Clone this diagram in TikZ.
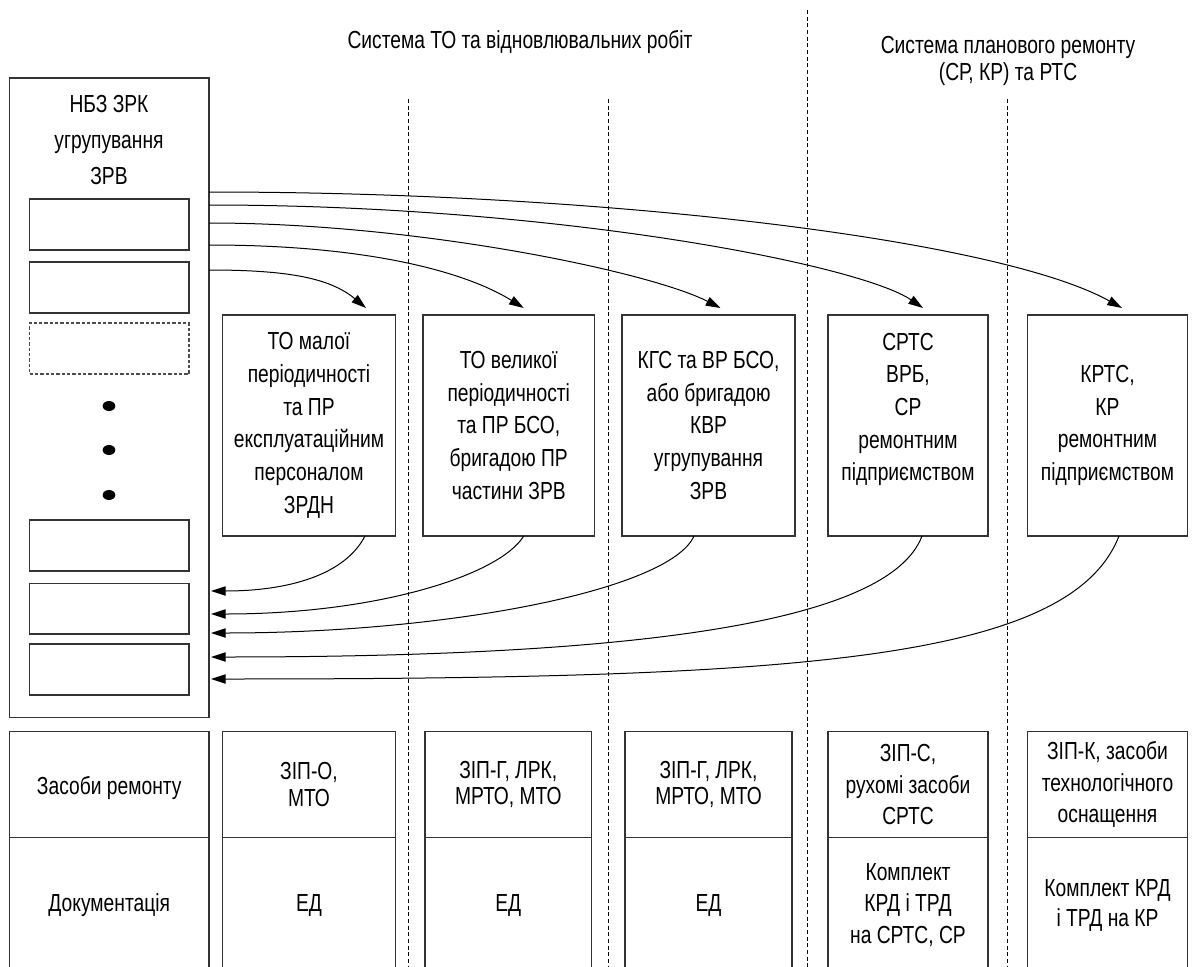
\documentclass[tikz,border=0pt]{standalone}
\usepackage{fontspec}
\setmainfont{Liberation Sans}[FakeStretch=0.78]
\usetikzlibrary{arrows.meta,calc,fit,shapes.geometric}

\tikzset{every picture/.style={line width=0.75pt}}
\tikzset{
  boxframe/.style={draw=black!80, line width=1pt, inner sep=0pt, outer sep=0pt},
  slotdash/.style={draw=black!70, dash pattern=on 2.5pt off 1.5pt, line width=0.9pt, inner sep=0pt, outer sep=0pt},
  txt/.style={align=center, inner sep=0.75pt, font=\fontsize{18.5}{24.5}\selectfont},
  divider/.style={dash pattern=on 3pt off 2pt, line width=0.75pt},
  bullet/.style={ellipse, fill=black, inner sep=0pt, minimum width=9.5pt, minimum height=7.5pt},
  flow/.style={-{Triangle[length=11pt,width=7pt]}, line width=0.75pt},
}

\begin{document}
\begin{tikzpicture}[x=0.75pt,y=0.75pt,yscale=-1,xscale=1]
%set diagram to 1200 x 967
\useasboundingbox (0,0) rectangle (1200,967);

% Text Node
\node [txt] (sys1) at (520,42) {Система ТО та відновлювальних робіт};
% Text Node
\node [txt, font=\fontsize{18.5}{20.5}\selectfont] (sys2) at (1008,61) {Система планового ремонту\\(СР, КР) та РТС};

%Dashed Lines
\draw [divider] (408,99) -- (408,967);
\draw [divider] (608,99) -- (608,967);
\draw [divider] (807.5,10) -- (807.5,967);
\draw [divider] (1007.5,99) -- (1007.5,967);

%Shape: Rectangle
\node [boxframe, fit={(9.5,78) (209,717.5)}] (nbz) {};
% Text Node
\node [txt, font=\fontsize{18.5}{27}\selectfont] (nbzlbl) at (109,140) {НБЗ ЗРК\\угрупування\\ЗРВ};

%Shape: Rectangle
\node [boxframe, fit={(29.5,199) (189,250)}] (s1) {};
\node [boxframe, fit={(29.5,262) (189,313)}] (s2) {};
\node [slotdash, fit={(29.5,323) (189,374)}] (s3) {};
\node [boxframe, fit={(29.5,520) (189,571)}] (s4) {};
\node [boxframe, fit={(29.5,583.5) (189,634)}] (s5) {};
\node [boxframe, fit={(29.5,644) (189,695)}] (s6) {};

%Shape: Ellipse
\node [bullet] (dot1) at (109,406) {};
\node [bullet] (dot2) at (109,450) {};
\node [bullet] (dot3) at (109,495) {};

%Shape: Rectangle
\node [boxframe, fit={(222.5,315) (395.5,536)}] (t1) {};
\node [boxframe, fit={(423,315) (594.5,536)}] (t2) {};
\node [boxframe, fit={(622,315) (795,536)}] (t3) {};
\node [boxframe, fit={(828,315) (988,536)}] (t4) {};
\node [boxframe, fit={(1027.5,315) (1187.5,536)}] (t5) {};
% Text Node
\node [txt] (t1lbl) at (t1) {ТО малої\\періодичності\\та ПР\\експлуатаційним\\персоналом\\ЗРДН};
\node [txt] (t2lbl) at (t2) {ТО великої\\періодичності\\та ПР БСО,\\бригадою ПР\\частини ЗРВ};
\node [txt] (t3lbl) at (t3) {КГС та ВР БСО,\\або бригадою\\КВР\\угрупування\\ЗРВ};
\node [txt] (t4lbl) at ($(t4)+(0,-16)$) {СРТС\\ВРБ,\\СР\\ремонтним\\підприємством};
\node [txt] (t5lbl) at (t5) {КРТС,\\КР\\ремонтним\\підприємством};

%Shape: Rectangle
\node [boxframe, fit={(9.5,731.5) (209,837.5)}] (z0) {};
\node [boxframe, fit={(222.5,731.5) (395.5,837.5)}] (z1) {};
\node [boxframe, fit={(425,731.5) (591.5,837.5)}] (z2) {};
\node [boxframe, fit={(625,731.5) (792,837.5)}] (z3) {};
\node [boxframe, fit={(828,731.5) (988,837.5)}] (z4) {};
\node [boxframe, fit={(1027.5,731.5) (1187.5,837.5)}] (z5) {};
%Open sides
\foreach \c in {0,...,5}
  \draw [boxframe] (z\c.south west) -- ++(0,131) (z\c.south east) -- ++(0,131);

% Text Node
\node [txt] (z0lbl) at ($(z0)+(0,4)$) {Засоби ремонту};
\node [txt, font=\fontsize{18.5}{20}\selectfont] (z1lbl) at (z1) {ЗІП-О,\\МТО};
\node [txt, font=\fontsize{18.5}{20}\selectfont] (z2lbl) at (z2) {ЗІП-Г, ЛРК,\\МРТО, МТО};
\node [txt, font=\fontsize{18.5}{20}\selectfont] (z3lbl) at (z3) {ЗІП-Г, ЛРК,\\МРТО, МТО};
\node [txt, font=\fontsize{18.5}{23.5}\selectfont] (z4lbl) at (z4) {ЗІП-С,\\рухомі засоби\\СРТС};
\node [txt, font=\fontsize{18.5}{23.5}\selectfont] (z5lbl) at (z5) {ЗІП-К, засоби\\технологічного\\оснащення};

% Text Node
\node [txt] (d0) at (z0.south |- 0,905) {Документація};
\node [txt] (d1) at (z1.south |- 0,905) {ЕД};
\node [txt] (d2) at (z2.south |- 0,905) {ЕД};
\node [txt] (d3) at (z3.south |- 0,905) {ЕД};
\node [txt, font=\fontsize{18.5}{23.5}\selectfont] (d4) at (z4.south |- 0,905) {Комплект\\КРД і ТРД\\на СРТС, СР};
\node [txt, font=\fontsize{18.5}{22.5}\selectfont] (d5) at (z5.south |- 0,905) {Комплект КРД\\і ТРД на КР};

%Curves to the tasks
\draw [flow] (nbz.east |- 0,270) .. controls +(79,0) and +(-36,-30) .. ($(t1.north)+(57,-7)$);
\draw [flow] (nbz.east |- 0,245) .. controls +(169,0) and +(-53,-33) .. ($(t2.north)+(15,-7)$);
\draw [flow] (nbz.east |- 0,223) .. controls +(209,0) and +(-70,-36) .. ($(t3.north)+(12,-7)$);
\draw [flow] (nbz.east |- 0,205) .. controls +(349,0) and +(-63,-43) .. ($(t4.north)+(15,-7)$);
\draw [flow] (nbz.east |- 0,192) .. controls +(400,0) and +(-122,-68) .. ($(t5.north)+(14.5,-7)$);

%Curves back
\draw [flow, shorten >=1.5pt] ($(t1.south)+(56,0)$) .. controls +(-20,39) and +(79,0) .. (nbz.east |- 0,591);
\draw [flow, shorten >=1.5pt] ($(t2.south)+(15,0)$) .. controls +(-24,39) and +(169,0) .. (nbz.east |- 0,614);
\draw [flow, shorten >=1.5pt] ($(t3.south)+(-14.5,0)$) .. controls +(-24,54) and +(239,0) .. (nbz.east |- 0,633);
\draw [flow, shorten >=1.5pt] ($(t4.south)+(14,0)$) .. controls +(-32,85) and +(439,0) .. (nbz.east |- 0,657);
\draw [flow, shorten >=1.5pt] ($(t5.south)+(11.5,0)$) .. controls +(-49,125) and +(589,0) .. (nbz.east |- 0,679);

\end{tikzpicture}
\end{document}
